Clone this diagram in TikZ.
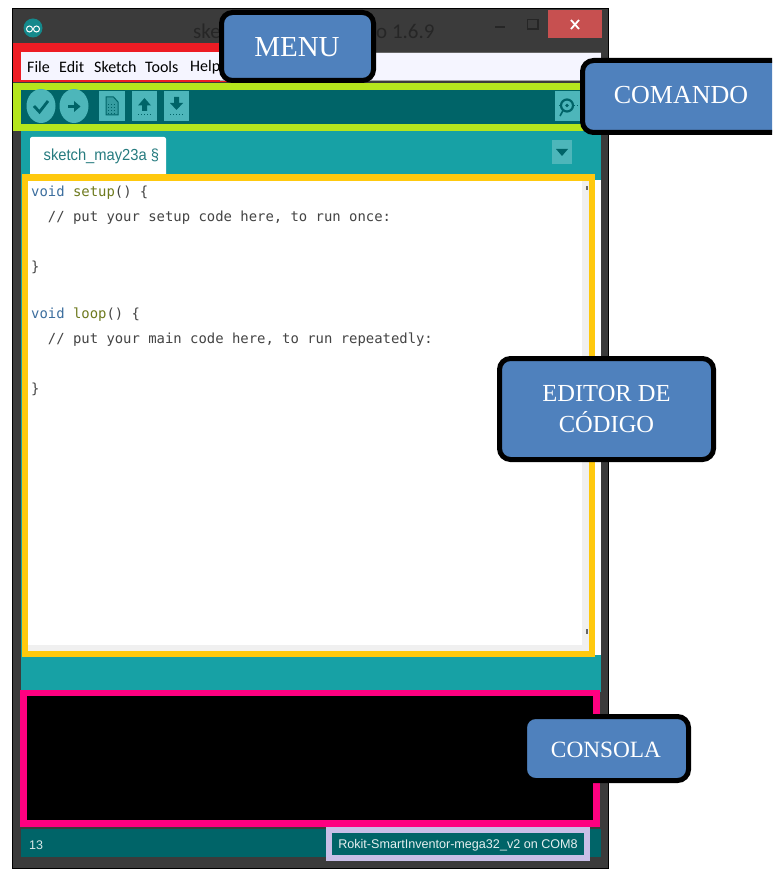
\documentclass[tikz,border=0pt]{standalone}
\usepackage{fontspec}
\setmainfont{Carlito}
\newfontfamily\labelfont{Liberation Serif}
\newfontfamily\codefont{DejaVu Sans Mono}
\newfontfamily\statusfont{Liberation Sans}
\definecolor{win}{HTML}{3B3B3B}
\definecolor{tealm}{HTML}{17A1A5}
\definecolor{teald}{HTML}{006468}
\definecolor{btn}{HTML}{4DB6BA}
\definecolor{lblue}{HTML}{4F81BD}
\definecolor{cred}{HTML}{ED1C24}
\definecolor{cgreen}{HTML}{B5E61D}
\definecolor{cyell}{HTML}{FFC90E}
\definecolor{cpink}{HTML}{FF0080}
\definecolor{clav}{HTML}{C8BFE7}
\definecolor{kw}{HTML}{3C6E9E}
\definecolor{fn}{HTML}{6E7A1E}
\definecolor{cmt}{HTML}{444444}
\definecolor{closebtn}{HTML}{C75050}
\definecolor{titlec}{HTML}{262626}
\tikzset{
  callout/.style={draw=black,line width=5pt,fill=lblue,rounded corners=11pt,text=white,
    align=center,inner sep=0pt,font=\labelfont},
  menuitem/.style={anchor=west,inner sep=0pt,text=black,font=\fontsize{16}{16}\selectfont},
  code/.style={anchor=west,inner sep=0pt,font=\codefont\fontsize{13.9}{14}\selectfont,text=cmt},
  toolbtn/.style={fill=btn},
}
\begin{document}
\begin{tikzpicture}[x=1pt,y=-1pt]
\useasboundingbox (0,0) rectangle (772,869);
\clip (0,0) rectangle (772,869);
\fill[white] (0,0) rectangle (772,869);
% window
\draw[black,line width=0.8pt,fill=win] (12,8) rectangle (608.5,868.5);
% logo
\fill[tealm!85!black] (33,28) ellipse (9.5 and 9.5);
\draw[white,line width=1pt] (29.5,29) circle (3) (36.5,29) circle (3);
% title
\node[inner sep=0pt,anchor=west,text=titlec,font=\fontsize{21}{21}\selectfont] (titleA) at (193,31) {ske};
\node[inner sep=0pt,anchor=west,text=titlec,font=\fontsize{21}{21}\selectfont] (titleB) at (376,31) {o 1.6.9};
% window buttons
\fill[titlec] (495,26.5) rectangle (505,28.5);
\draw[titlec,line width=1.4pt] (527.5,19.5) rectangle (538,29);
\fill[closebtn] (548,10) rectangle (602,38);
\draw[white,line width=1.8pt] (571,20) -- (579,29) (579,20) -- (571,29);
% menu bar
\fill[cred] (13,43) rectangle (230,82);
\fill[white!96!blue] (21,52) rectangle (601,80);
\draw[black!35,line width=0.8pt] (220,80.5) -- (601,80.5);
\draw[black!60,line width=0.8pt] (220,52) -- (601,52);
\node[menuitem] (mFile) at (27,67) {File};
\node[menuitem] (mEdit) at (59,67) {Edit};
\node[menuitem] (mSketch) at (94,67) {Sketch};
\node[menuitem] (mTools) at (145,67) {Tools};
\node[menuitem] (mHelp) at (190,67) {Help};
% teal body
\fill[tealm] (21,131) rectangle (601,692);
% toolbar
\fill[cgreen] (13,83) rectangle (590,131);
\fill[teald] (21,90) rectangle (601,124);
\fill[toolbtn] (41,106) ellipse (14.5 and 17);
\fill[toolbtn] (74,106) ellipse (14.5 and 17);
\draw[teald,line width=2.8pt] (34,106) -- (39.5,112) -- (48,101);
\draw[teald,line width=2.4pt] (68,106.5) -- (75,106.5);
\fill[teald] (74,101) -- (80.5,106.5) -- (74,112) -- cycle;
\fill[toolbtn] (99,91) rectangle (124.5,121.5);
\fill[toolbtn] (132,91) rectangle (157,121.5);
\fill[toolbtn] (164,91) rectangle (189,121.5);
\draw[teald,line width=1pt,fill=btn!70!teald] (106,97) -- (113.5,97) -- (118,102) -- (118,115) -- (106,115) -- cycle;
\draw[teald,line width=0.8pt,dotted] (108,104) -- (116,104) (108,107) -- (116,107) (108,110) -- (116,110) (108,113) -- (116,113);
\fill[teald] (144.5,98) -- (151,105.5) -- (147,105.5) -- (147,111) -- (142,111) -- (142,105.5) -- (138,105.5) -- cycle;
\draw[teald,line width=1pt,dotted] (138,115) -- (151,115);
\fill[teald] (176.5,110) -- (183,103) -- (179,103) -- (179,97) -- (174,97) -- (174,103) -- (170,103) -- cycle;
\draw[teald,line width=1pt,dotted] (170,115) -- (183,115);
\fill[toolbtn] (555,91) rectangle (585,121.5);
\draw[teald,line width=2.2pt] (567,105.5) circle (6);
\fill[teald] (567,105.5) circle (1.8);
\draw[teald,line width=1.6pt] (563,110.5) -- (560,116);
\draw[teald,line width=0.8pt,dotted] (559,105.5) -- (560,105.5) (574,105.5) -- (577,105.5);
% tab
\fill[white,rounded corners=2pt] (30,180) -- (30,137) -- (166,137) -- (166,180) -- cycle;
\node[inner sep=0pt,anchor=west,text=teald!85!white,font=\statusfont\fontsize{16}{16}\selectfont] (tabtext) at (43.5,156) {\scalebox{0.92}[1]{sketch\_may23a §}};
\fill[toolbtn] (552,140) rectangle (572,164.5);
\fill[teald] (556,149) -- (568,149) -- (562,156) -- cycle;
% editor
\fill[white] (28,180) rectangle (601,655);
\fill[black!6] (582,180) rectangle (590,650);
\fill[black!6] (28,645) rectangle (590,651);
\fill[black!60] (586,186) rectangle (588,190);
\fill[black!60] (586,629) rectangle (588,634);
\node[code] (l1) at (31,193) {\textcolor{kw}{void} \textcolor{fn}{setup}() \{};
\node[code] (l2) at (31,218) {\ \ // put your setup code here, to run once:};
\node[code] (l3) at (31,267) {\}};
\node[code] (l4) at (31,315) {\textcolor{kw}{void} \textcolor{fn}{loop}() \{};
\node[code] (l5) at (31,340) {\ \ // put your main code here, to run repeatedly:};
\node[code] (l6) at (31,389) {\}};
\draw[cyell,line width=6pt] (25,177.5) rectangle (592,654);
% console
\fill[black] (23,692) rectangle (597,824);
\draw[cpink,line width=6.5pt] (23.6,693) rectangle (596.6,823.6);
% status bar
\fill[teald] (21,829) rectangle (601,857);
\node[inner sep=0pt,anchor=west,text=white!85!teald,font=\statusfont\fontsize{12.5}{13}\selectfont] (lineno) at (29,845.5) {13};
\draw[clav,line width=6pt] (329,830) rectangle (587,858);
\node[inner sep=0pt,anchor=center,text=white!90!teald,font=\statusfont\fontsize{12.6}{13}\selectfont] (board) at (458,845.5) {Rokit-SmartInventor-mega32\_v2 on COM8};
% callouts
\node[callout,minimum width=152pt,minimum height=68pt] (menu) at (297.5,46.5) {};
\node[inner sep=0pt,text=white,font=\labelfont\fontsize{29}{29}\selectfont] (menutext) at (297,47.5) {MENU};
\node[callout,minimum width=210pt,minimum height=72pt] (comando) at (687.5,96.5) {};
\node[inner sep=0pt,text=white,font=\labelfont\fontsize{26}{26}\selectfont] (comandotext) at (681,95) {COMANDO};
\node[callout,minimum width=214pt,minimum height=101pt,font=\labelfont\fontsize{24.5}{31}\selectfont] (editor) at (606.5,409) {EDITOR DE\\CÓDIGO};
\node[callout,minimum width=164pt,minimum height=64pt] (consola) at (606.5,748.5) {};
\node[inner sep=0pt,text=white,font=\labelfont\fontsize{23.3}{24}\selectfont] (consolatext) at (606,750) {CONSOLA};
\end{tikzpicture}
\end{document}
